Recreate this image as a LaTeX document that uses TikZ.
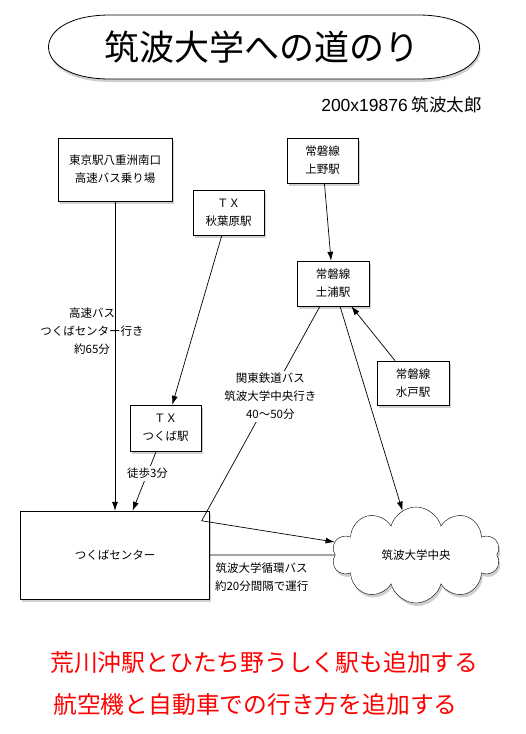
\documentclass[tikz,border=0pt]{standalone}
\usepackage{fontspec}
\setmainfont{Noto Sans CJK JP}
\newfontfamily\latinfont{Liberation Sans}
\usetikzlibrary{arrows.meta,shapes.symbols,shadows}

\begin{document}
\begin{tikzpicture}[x=1pt,y=-1pt,
        station/.style={draw, fill=white, align=center, inner sep=0pt,
            font=\fontsize{11.5}{18}\selectfont,
            drop shadow={shadow xshift=1.5pt, shadow yshift=-3pt, opacity=0.38}},
        lbl/.style={align=center, inner sep=2pt, font=\fontsize{11.5}{18}\selectfont},
        arr/.style={-{Latex[length=9pt,width=6pt]}, line width=0.7pt}]
    \useasboundingbox (0,0) rectangle (526,734);
    \draw[fill=white, line width=0.8pt, drop shadow={shadow xshift=1pt, shadow yshift=-3pt, opacity=0.38}]
        (110,15) -- (418,15) .. controls (500,15) and (500,79) .. (418,79)
        -- (110,79) .. controls (28,79) and (28,15) .. (110,15) -- cycle;
    \node[font=\fontsize{35}{35}\selectfont] (title) at (262,47) {筑波大学への道のり};
    \node[anchor=east, inner sep=0pt, font=\fontsize{17.5}{20}\selectfont] (author) at (482,105) {{\latinfont 200x19876} 筑波太郎};

    \node[station, minimum width=114pt, minimum height=63pt] (tokyo) at (115,169.5) {東京駅八重洲南口\\高速バス乗り場};
    \node[station, minimum width=71pt, minimum height=45pt] (akiba) at (228.5,212.5) {ＴＸ\\秋葉原駅};
    \node[station, minimum width=71pt, minimum height=45pt] (ueno) at (322.5,160.5) {常磐線\\上野駅};
    \node[station, minimum width=72pt, minimum height=45pt] (tsuchiura) at (333,283.5) {常磐線\\土浦駅};
    \node[station, minimum width=72pt, minimum height=44pt] (mito) at (413,383) {常磐線\\水戸駅};
    \node[station, minimum width=71pt, minimum height=46pt] (tsukuba) at (165.5,428) {ＴＸ\\つくば駅};
    \node[station, minimum width=189pt, minimum height=88pt] (center) at (115,555) {つくばセンター};
    \node[station, cloud, cloud puffs=10, aspect=1.75, minimum width=168pt, minimum height=96pt] (univ) at (416,555) {筑波大学中央};

    \draw[arr] (tokyo) -- node[lbl, pos=0.42, xshift=-23pt] {高速バス\\つくばセンター行き\\約65分} (center);
    \draw[arr] (akiba) -- (tsukuba);
    \draw[arr] (ueno) -- (tsuchiura);
    \draw[arr] (mito) -- (tsuchiura);
    \draw[arr] ([xshift=7pt]tsuchiura.south) -- (univ);
    \coordinate (bend) at ([shift={(-8,10)}]center.north east);
    \draw[arr] ([xshift=-13pt]tsuchiura.south) -- node[lbl, fill=white, pos=0.42] {関東鉄道バス\\筑波大学中央行き\\40〜50分} (bend) -- (univ);
    \draw[arr] (tsukuba) -- node[lbl, fill=white, pos=0.37] {徒歩3分} (center);
    \draw[line width=0.7pt] (center) -- node[lbl, fill=white, anchor=north west, pos=0, xshift=3pt, yshift=-5pt] {筑波大学循環バス\\約20分間隔で運行} (univ);

    \node[anchor=west, inner sep=0pt, text=red, font=\fontsize{23.8}{28}\selectfont] (note1) at (50,663) {荒川沖駅とひたち野うしく駅も追加する};
    \node[anchor=west, inner sep=0pt, text=red, font=\fontsize{23.8}{28}\selectfont] (note2) at (53,704) {航空機と自動車での行き方を追加する};
\end{tikzpicture}
\end{document}
